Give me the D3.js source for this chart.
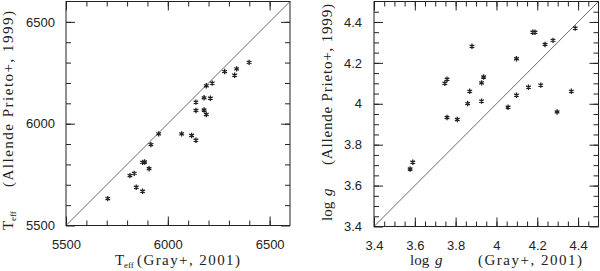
<!DOCTYPE html>
<html>
<head>
<meta charset="utf-8">
<script src="https://cdn.jsdelivr.net/npm/d3@7"></script>
<style>
  body { margin: 0; background: #fff; }
  svg { display: block; }
  .tick text { font-family: "Liberation Sans", Arial, sans-serif; font-size: 13px; fill: #222; }
  .tick line { stroke: #222; }
  .title text { font-family: "Liberation Serif", "Times New Roman", serif; font-size: 15px; fill: #222; }
</style>
</head>
<body>
<div id="chart"></div>
<script>
// Teff comparison (Gray+ 2001 vs Allende Prieto+ 1999)
const grayTeff     = [5705, 5814, 5835, 5845, 5876, 5876, 5886, 5908, 5917, 5955, 6068, 6117, 6138, 6138, 6138, 6178, 6178, 6189, 6209, 6189, 6218, 6279, 6328, 6338, 6399];
const allendeTeff  = [5632, 5745, 5756, 5688, 5668, 5810, 5812, 5779, 5897, 5950, 5950, 5942, 5919, 6065, 6106, 6127, 6067, 6045, 6125, 6186, 6199, 6256, 6238, 6269, 6301];

// log g comparison
const grayLogg     = [3.577, 3.590, 3.747, 3.758, 3.758, 3.808, 3.859, 3.869, 3.880, 3.927, 3.937, 3.927, 4.057, 4.098, 4.098, 4.157, 4.178, 4.189, 4.217, 4.238, 4.277, 4.297, 4.367, 4.386];
const allendeLogg  = [3.681, 3.714, 4.100, 4.120, 3.933, 3.923, 4.001, 4.061, 4.281, 4.102, 4.131, 4.013, 3.983, 4.220, 4.042, 4.081, 4.350, 4.350, 4.091, 4.290, 4.310, 3.960, 4.061, 4.370];

const teffDomain = [5500, 6600];
const teffMajor = [5500, 6000, 6500];
const teffMinor = d3.range(5600, 6600, 100);

const loggDomain = [3.4, 4.5];
const loggMajor = [3.4, 3.6, 3.8, 4.0, 4.2, 4.4];
const loggMinor = d3.range(3.45, 4.5, 0.05);

const width = 600, height = 271;
const svg = d3.select('#chart').append('svg')
  .attr('width', width)
  .attr('height', height);

const star = d3.symbol(d3.symbolAsterisk, 20);

function drawPanel(p) {
  const x = d3.scaleLinear().domain(p.domain).range([p.left, p.right]);
  const y = d3.scaleLinear().domain(p.domain).range([p.bottom, p.top]);
  const g = svg.append('g');

  // ticks point inward on all four sides
  const minor = (axis, scale) => axis(scale).tickValues(p.minor).tickSize(-5).tickSizeOuter(0).tickFormat('');
  const major = (axis, scale, fmt) => axis(scale).tickValues(p.major).tickSize(-9).tickSizeOuter(0).tickFormat(fmt || '');

  const axes = [
    [d3.axisBottom, x, `translate(0,${p.bottom})`, true, p.padX],
    [d3.axisTop, x, `translate(0,${p.top})`, false],
    [d3.axisLeft, y, `translate(${p.left},0)`, true, p.padY],
    [d3.axisRight, y, `translate(${p.right},0)`, false]
  ];
  axes.forEach(([axis, scale, tr, labels, pad]) => {
    g.append('g').attr('transform', tr).call(minor(axis, scale)).call(s => s.select('.domain').remove());
    g.append('g').attr('transform', tr)
      .call(major(axis, scale, labels ? p.fmt : null).tickPadding(pad || 3))
      .call(s => s.select('.domain').remove());
  });

  // frame
  g.append('rect')
    .attr('x', p.left).attr('y', p.top)
    .attr('width', p.right - p.left).attr('height', p.bottom - p.top)
    .attr('fill', 'none').attr('stroke', '#222').attr('stroke-width', 1);

  // one-to-one line
  g.append('line')
    .attr('x1', x(p.domain[0])).attr('y1', y(p.domain[0]))
    .attr('x2', x(p.domain[1])).attr('y2', y(p.domain[1]))
    .attr('stroke', '#444').attr('stroke-width', 0.8);

  // stars
  g.selectAll('path.pt')
    .data(p.xs.map((v, i) => [v, p.ys[i]]))
    .join('path')
    .attr('class', 'pt')
    .attr('d', star)
    .attr('transform', d => `translate(${x(d[0])},${y(d[1])})`)
    .attr('fill', 'none')
    .attr('stroke', '#222')
    .attr('stroke-width', 1.3);
}

drawPanel({
  left: 66, right: 290, top: 1.5, bottom: 225.5,
  domain: teffDomain, major: teffMajor, minor: teffMinor,
  xs: grayTeff, ys: allendeTeff,
  fmt: d3.format('d'), padX: 14, padY: 11
});

drawPanel({
  left: 374, right: 598.5, top: 1.5, bottom: 226.5,
  domain: loggDomain, major: loggMajor, minor: loggMinor,
  xs: grayLogg, ys: allendeLogg,
  fmt: d => d3.format('.1f')(d).replace(/\.0$/, ''), padX: 14, padY: 12
});

// axis titles, built from pieces so the spacing follows the original
function title(transform, pieces) {
  const g = svg.append('g').attr('class', 'title').attr('transform', transform);
  pieces.forEach(pc => {
    const t = g.append('text').attr('x', pc.x).attr('y', pc.dy || 0).text(pc.text);
    if (pc.len) t.attr('textLength', pc.len).attr('lengthAdjust', 'spacing');
    if (pc.size) t.style('font-size', pc.size + 'px');
    if (pc.italic) t.style('font-style', 'italic');
  });
}

const teffLabel = (start, len, rest) => [
  { x: 0, text: 'T' },
  { x: 9, dy: 3, text: 'eff', size: 9 },
  { x: start, text: rest, len: len }
];
const loggLabel = (start, len, rest) => [
  { x: 0, text: 'log' },
  { x: 25, text: 'g', italic: true },
  { x: start, text: rest, len: len }
];

title('translate(115,265)', teffLabel(22, 103, '(Gray+, 2001)'));
title('translate(13,230) rotate(-90)', teffLabel(43, 176, '(Allende Prieto+, 1999)'));
title('translate(410,265)', loggLabel(68, 104, '(Gray+, 2001)'));
title('translate(332,221) rotate(-90)', loggLabel(56, 161, '(Allende Prieto+, 1999)'));
</script>
</body>
</html>
